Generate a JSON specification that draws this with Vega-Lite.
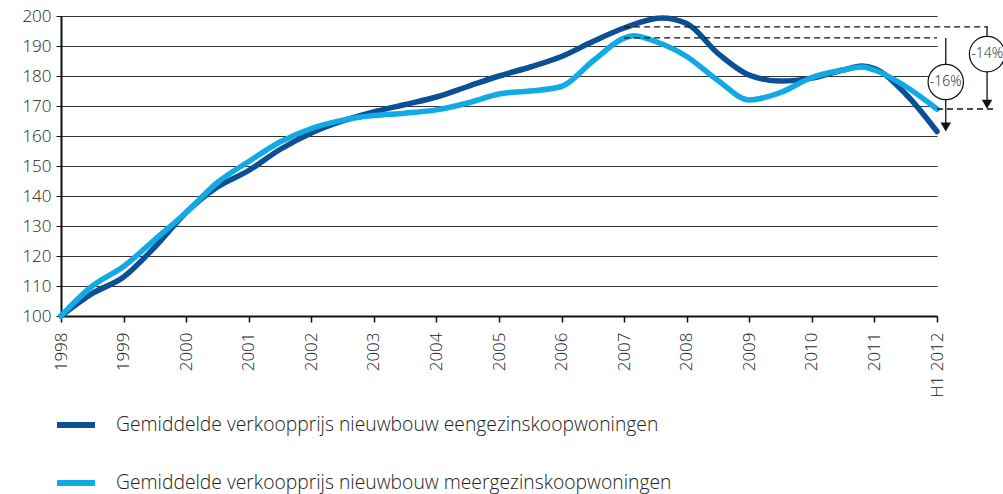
{
  "$schema": "https://vega.github.io/schema/vega-lite/v6.json",
  "width": 876,
  "height": 300,
  "autosize": "none",
  "padding": {"left": 61, "top": 16, "right": 66, "bottom": 178},
  "background": "white",
  "config": {
    "view": {"stroke": null},
    "font": "Open Sans",
    "axis": {"labelFont": "Open Sans", "labelFontWeight": 300, "labelColor": "#222", "labelFontSize": 17, "title": null},
    "axisY": {"tickCount": 10, "labelOverlap": false, "grid": true, "gridColor": "#111", "gridWidth": 1, "gridOpacity": 0.85, "domainColor": "#111", "domainWidth": 2, "tickColor": "#111", "tickSize": 5, "labelPadding": 5, "labelFlush": false},
    "legend": {"labelFont": "Open Sans"}
  },
  "layer": [
    {
      "data": {"values": [
        {"series": "Gemiddelde verkoopprijs nieuwbouw eengezinskoopwoningen", "year": 1998, "value": 100},
        {"series": "Gemiddelde verkoopprijs nieuwbouw eengezinskoopwoningen", "year": 1998.5, "value": 107.5},
        {"series": "Gemiddelde verkoopprijs nieuwbouw eengezinskoopwoningen", "year": 1999, "value": 113},
        {"series": "Gemiddelde verkoopprijs nieuwbouw eengezinskoopwoningen", "year": 1999.5, "value": 123},
        {"series": "Gemiddelde verkoopprijs nieuwbouw eengezinskoopwoningen", "year": 2000, "value": 134.5},
        {"series": "Gemiddelde verkoopprijs nieuwbouw eengezinskoopwoningen", "year": 2000.5, "value": 143},
        {"series": "Gemiddelde verkoopprijs nieuwbouw eengezinskoopwoningen", "year": 2001, "value": 148.5},
        {"series": "Gemiddelde verkoopprijs nieuwbouw eengezinskoopwoningen", "year": 2001.5, "value": 155.5},
        {"series": "Gemiddelde verkoopprijs nieuwbouw eengezinskoopwoningen", "year": 2002, "value": 161},
        {"series": "Gemiddelde verkoopprijs nieuwbouw eengezinskoopwoningen", "year": 2002.5, "value": 165},
        {"series": "Gemiddelde verkoopprijs nieuwbouw eengezinskoopwoningen", "year": 2003, "value": 168},
        {"series": "Gemiddelde verkoopprijs nieuwbouw eengezinskoopwoningen", "year": 2003.5, "value": 170.5},
        {"series": "Gemiddelde verkoopprijs nieuwbouw eengezinskoopwoningen", "year": 2004, "value": 173},
        {"series": "Gemiddelde verkoopprijs nieuwbouw eengezinskoopwoningen", "year": 2004.5, "value": 176.5},
        {"series": "Gemiddelde verkoopprijs nieuwbouw eengezinskoopwoningen", "year": 2005, "value": 180},
        {"series": "Gemiddelde verkoopprijs nieuwbouw eengezinskoopwoningen", "year": 2005.5, "value": 183},
        {"series": "Gemiddelde verkoopprijs nieuwbouw eengezinskoopwoningen", "year": 2006, "value": 186.5},
        {"series": "Gemiddelde verkoopprijs nieuwbouw eengezinskoopwoningen", "year": 2006.5, "value": 191.5},
        {"series": "Gemiddelde verkoopprijs nieuwbouw eengezinskoopwoningen", "year": 2007, "value": 196},
        {"series": "Gemiddelde verkoopprijs nieuwbouw eengezinskoopwoningen", "year": 2007.6, "value": 199.3},
        {"series": "Gemiddelde verkoopprijs nieuwbouw eengezinskoopwoningen", "year": 2008, "value": 197.5},
        {"series": "Gemiddelde verkoopprijs nieuwbouw eengezinskoopwoningen", "year": 2008.5, "value": 187.5},
        {"series": "Gemiddelde verkoopprijs nieuwbouw eengezinskoopwoningen", "year": 2009, "value": 180.3},
        {"series": "Gemiddelde verkoopprijs nieuwbouw eengezinskoopwoningen", "year": 2009.5, "value": 178.3},
        {"series": "Gemiddelde verkoopprijs nieuwbouw eengezinskoopwoningen", "year": 2010, "value": 179.3},
        {"series": "Gemiddelde verkoopprijs nieuwbouw eengezinskoopwoningen", "year": 2010.5, "value": 182},
        {"series": "Gemiddelde verkoopprijs nieuwbouw eengezinskoopwoningen", "year": 2010.8, "value": 183.3},
        {"series": "Gemiddelde verkoopprijs nieuwbouw eengezinskoopwoningen", "year": 2011, "value": 182.5},
        {"series": "Gemiddelde verkoopprijs nieuwbouw eengezinskoopwoningen", "year": 2011.5, "value": 174},
        {"series": "Gemiddelde verkoopprijs nieuwbouw eengezinskoopwoningen", "year": 2012, "value": 161.5},
        {"series": "Gemiddelde verkoopprijs nieuwbouw meergezinskoopwoningen", "year": 1998, "value": 100},
        {"series": "Gemiddelde verkoopprijs nieuwbouw meergezinskoopwoningen", "year": 1998.5, "value": 110},
        {"series": "Gemiddelde verkoopprijs nieuwbouw meergezinskoopwoningen", "year": 1999, "value": 116.5},
        {"series": "Gemiddelde verkoopprijs nieuwbouw meergezinskoopwoningen", "year": 1999.5, "value": 125.5},
        {"series": "Gemiddelde verkoopprijs nieuwbouw meergezinskoopwoningen", "year": 2000, "value": 134.5},
        {"series": "Gemiddelde verkoopprijs nieuwbouw meergezinskoopwoningen", "year": 2000.5, "value": 144.5},
        {"series": "Gemiddelde verkoopprijs nieuwbouw meergezinskoopwoningen", "year": 2001, "value": 151.5},
        {"series": "Gemiddelde verkoopprijs nieuwbouw meergezinskoopwoningen", "year": 2001.5, "value": 158},
        {"series": "Gemiddelde verkoopprijs nieuwbouw meergezinskoopwoningen", "year": 2002, "value": 162.5},
        {"series": "Gemiddelde verkoopprijs nieuwbouw meergezinskoopwoningen", "year": 2002.5, "value": 165.3},
        {"series": "Gemiddelde verkoopprijs nieuwbouw meergezinskoopwoningen", "year": 2003, "value": 166.8},
        {"series": "Gemiddelde verkoopprijs nieuwbouw meergezinskoopwoningen", "year": 2003.5, "value": 167.6},
        {"series": "Gemiddelde verkoopprijs nieuwbouw meergezinskoopwoningen", "year": 2004, "value": 168.7},
        {"series": "Gemiddelde verkoopprijs nieuwbouw meergezinskoopwoningen", "year": 2004.5, "value": 171},
        {"series": "Gemiddelde verkoopprijs nieuwbouw meergezinskoopwoningen", "year": 2005, "value": 174},
        {"series": "Gemiddelde verkoopprijs nieuwbouw meergezinskoopwoningen", "year": 2005.5, "value": 175},
        {"series": "Gemiddelde verkoopprijs nieuwbouw meergezinskoopwoningen", "year": 2006, "value": 176.5},
        {"series": "Gemiddelde verkoopprijs nieuwbouw meergezinskoopwoningen", "year": 2006.5, "value": 185},
        {"series": "Gemiddelde verkoopprijs nieuwbouw meergezinskoopwoningen", "year": 2007, "value": 192.6},
        {"series": "Gemiddelde verkoopprijs nieuwbouw meergezinskoopwoningen", "year": 2007.15, "value": 193.4},
        {"series": "Gemiddelde verkoopprijs nieuwbouw meergezinskoopwoningen", "year": 2007.5, "value": 191.5},
        {"series": "Gemiddelde verkoopprijs nieuwbouw meergezinskoopwoningen", "year": 2008, "value": 186.5},
        {"series": "Gemiddelde verkoopprijs nieuwbouw meergezinskoopwoningen", "year": 2008.5, "value": 178.5},
        {"series": "Gemiddelde verkoopprijs nieuwbouw meergezinskoopwoningen", "year": 2009, "value": 172},
        {"series": "Gemiddelde verkoopprijs nieuwbouw meergezinskoopwoningen", "year": 2009.5, "value": 174.5},
        {"series": "Gemiddelde verkoopprijs nieuwbouw meergezinskoopwoningen", "year": 2010, "value": 179.5},
        {"series": "Gemiddelde verkoopprijs nieuwbouw meergezinskoopwoningen", "year": 2010.5, "value": 182},
        {"series": "Gemiddelde verkoopprijs nieuwbouw meergezinskoopwoningen", "year": 2010.8, "value": 183},
        {"series": "Gemiddelde verkoopprijs nieuwbouw meergezinskoopwoningen", "year": 2011, "value": 182},
        {"series": "Gemiddelde verkoopprijs nieuwbouw meergezinskoopwoningen", "year": 2011.5, "value": 176.5},
        {"series": "Gemiddelde verkoopprijs nieuwbouw meergezinskoopwoningen", "year": 2012, "value": 169}
      ]},
      "mark": {"type": "line", "interpolate": "monotone", "strokeWidth": 5.5, "strokeCap": "round", "strokeJoin": "round"},
      "encoding": {
        "x": {
          "field": "year", "type": "quantitative",
          "scale": {"domain": [1998, 2012], "nice": false, "zero": false},
          "axis": {
            "values": [1998, 1999, 2000, 2001, 2002, 2003, 2004, 2005, 2006, 2007, 2008, 2009, 2010, 2011, 2012],
            "labelExpr": "datum.value == 2012 ? 'H1 2012' : '' + datum.value",
            "labelAngle": -90, "labelPadding": 10, "grid": false, "labelOverlap": false,
            "domainColor": "#111", "domainWidth": 2, "tickColor": "#111", "tickSize": 6, "tickWidth": 1.5
          }
        },
        "y": {
          "field": "value", "type": "quantitative",
          "scale": {"domain": [100, 200], "nice": false, "zero": false},
          "axis": {"tickCount": 10, "labelOverlap": false, "grid": true}
        },
        "color": {
          "field": "series", "type": "nominal",
          "scale": {
            "domain": ["Gemiddelde verkoopprijs nieuwbouw eengezinskoopwoningen", "Gemiddelde verkoopprijs nieuwbouw meergezinskoopwoningen"],
            "range": ["#0b4f94", "#12aae4"]
          },
          "legend": {
            "title": null, "orient": "none", "legendX": -7, "legendY": 387, "direction": "vertical",
            "symbolType": "stroke", "symbolSize": 1444, "symbolStrokeWidth": 6,
            "labelFontSize": 19.3, "labelFontWeight": 300, "labelColor": "#222", "labelOffset": 18,
            "rowPadding": 24, "labelLimit": 0
          }
        }
      }
    },
    {
      "data": {"values": [
        {"year": 2007, "year2": 2012.81, "value": 196.4},
        {"year": 2007, "year2": 2012.0, "value": 192.7},
        {"year": 2012, "year2": 2012.9, "value": 169}
      ]},
      "mark": {"type": "rule", "color": "#111", "strokeWidth": 1.3, "strokeDash": [6, 4]},
      "encoding": {
        "x": {"field": "year", "type": "quantitative"},
        "x2": {"field": "year2"},
        "y": {"field": "value", "type": "quantitative"}
      }
    },
    {
      "data": {"values": [
        {"year": 2012.14, "value": 192.7, "value2": 184},
        {"year": 2012.14, "value": 172, "value2": 163.5},
        {"year": 2012.8, "value": 196.4, "value2": 193.2},
        {"year": 2012.8, "value": 181.4, "value2": 171}
      ]},
      "mark": {"type": "rule", "color": "#111", "strokeWidth": 1.3},
      "encoding": {
        "x": {"field": "year", "type": "quantitative"},
        "y": {"field": "value", "type": "quantitative"},
        "y2": {"field": "value2"}
      }
    },
    {
      "data": {"values": [
        {"year": 2012.14, "value": 163.0},
        {"year": 2012.8, "value": 170.6}
      ]},
      "mark": {"type": "point", "shape": "triangle-down", "filled": true, "color": "#111", "size": 110, "opacity": 1},
      "encoding": {
        "x": {"field": "year", "type": "quantitative"},
        "y": {"field": "value", "type": "quantitative"}
      }
    },
    {
      "data": {"values": [
        {"year": 2012.14, "value": 178, "label": "-16%"},
        {"year": 2012.8, "value": 187.3, "label": "-14%"}
      ]},
      "mark": {"type": "point", "shape": "circle", "filled": true, "color": "white", "fill": "white", "fillOpacity": 1, "stroke": "#111", "strokeOpacity": 1, "strokeWidth": 1.2, "size": 1250, "opacity": 1},
      "encoding": {
        "x": {"field": "year", "type": "quantitative"},
        "y": {"field": "value", "type": "quantitative"}
      }
    },
    {
      "data": {"values": [
        {"year": 2012.14, "value": 178, "label": "-16%"},
        {"year": 2012.8, "value": 187.3, "label": "-14%"}
      ]},
      "mark": {"type": "text", "font": "Open Sans", "fontWeight": 300, "fontSize": 14, "color": "#222", "align": "center", "baseline": "middle"},
      "encoding": {
        "x": {"field": "year", "type": "quantitative"},
        "y": {"field": "value", "type": "quantitative"},
        "text": {"field": "label"}
      }
    }
  ]
}
